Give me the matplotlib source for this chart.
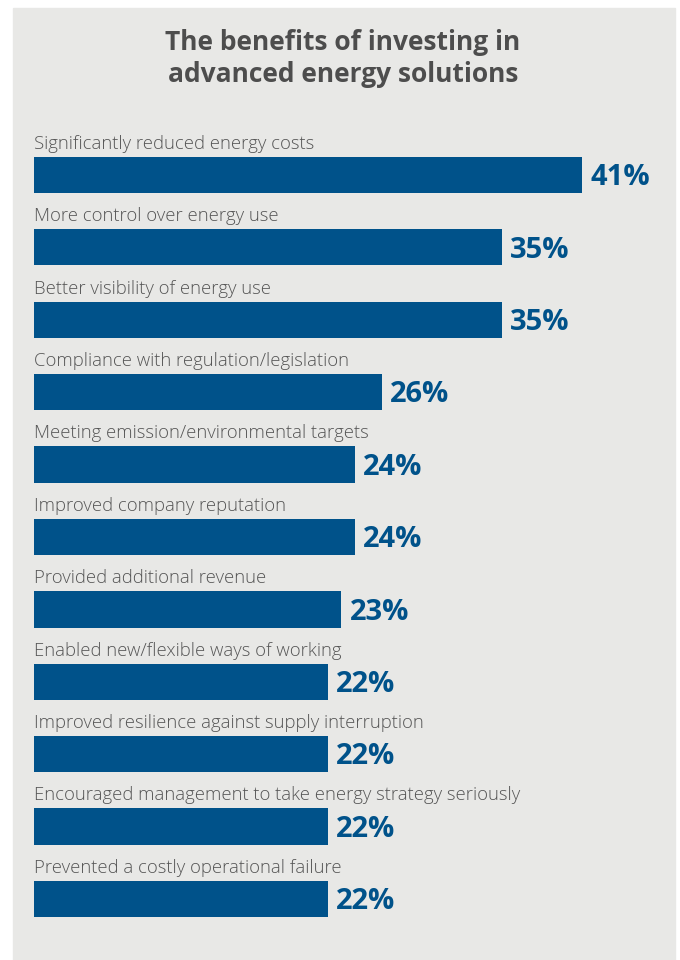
import matplotlib.pyplot as plt
from matplotlib.patches import Rectangle

labels = [
    "Significantly reduced energy costs",
    "More control over energy use",
    "Better visibility of energy use",
    "Compliance with regulation/legislation",
    "Meeting emission/environmental targets",
    "Improved company reputation",
    "Provided additional revenue",
    "Enabled new/flexible ways of working",
    "Improved resilience against supply interruption",
    "Encouraged management to take energy strategy seriously",
    "Prevented a costly operational failure",
]
values = [41, 35, 35, 26, 24, 24, 23, 22, 22, 22, 22]

bar_color = "#00528a"
panel_color = "#e8e8e6"
text_color = "#555555"

plt.rcParams['font.family'] = ['Open Sans', 'DejaVu Sans']

W, H = 680, 960
fig = plt.figure(figsize=(W / 100, H / 100), dpi=100)
fig.patch.set_facecolor("white")

# grey panel behind everything
fig.patches.append(Rectangle((13 / W, 0), (675 - 13) / W, 1 - 8 / H,
                             transform=fig.transFigure, color=panel_color,
                             zorder=-5))

for y, line in [(43, "The benefits of investing in"),
                (74, "advanced energy solutions")]:
    fig.text(343 / W, 1 - y / H, line, ha="center", va="center",
             fontsize=19, fontweight="bold", color="#4d4d4d")

# axes: x in percent, one row per benefit
px_per_pct = (582 - 34) / 41
row_step = 72.4
top = 175 - row_step / 2
bottom = 899 + row_step / 2
ax = fig.add_axes([34 / W, 1 - bottom / H, (W - 34) / W, (bottom - top) / H])
ax.set_xlim(0, (W - 34) / px_per_pct)
ax.set_ylim(len(values) - 0.5, -0.5)
ax.axis("off")

rows = range(len(values))
ax.barh(rows, values, height=0.5, color=bar_color, zorder=2)

for i, (lab, v) in enumerate(zip(labels, values)):
    ax.text(0, i - 0.43, lab, ha="left", va="center", fontsize=13.3,
            color=text_color, fontweight="light")
    ax.annotate(f"{v}%", (v, i), xytext=(6, -2), textcoords="offset points",
                ha="left", va="center", fontsize=21, fontweight="bold",
                color=bar_color)

fig.savefig("out.png", dpi=100, facecolor=fig.get_facecolor())
